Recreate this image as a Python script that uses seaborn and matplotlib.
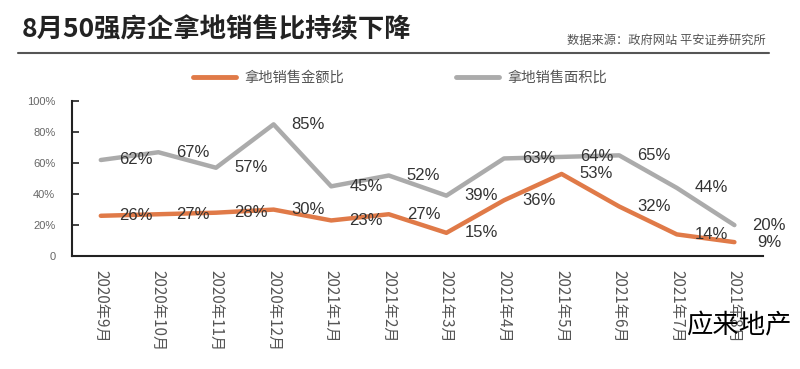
import matplotlib
matplotlib.use("Agg")
import pandas as pd
import matplotlib.pyplot as plt
import seaborn as sns
from matplotlib.lines import Line2D

months = ["2020年9月", "2020年10月", "2020年11月", "2020年12月", "2021年1月", "2021年2月",
          "2021年3月", "2021年4月", "2021年5月", "2021年6月", "2021年7月", "2021年8月"]
amount_ratio = [26, 27, 28, 30, 23, 27, 15, 36, 53, 32, 14, 9]
area_ratio = [62, 67, 57, 85, 45, 52, 39, 63, 64, 65, 44, 20]
series_names = ["拿地销售金额比", "拿地销售面积比"]
y_ticks = [0, 20, 40, 60, 80, 100]
y_tick_labels = ["0", "20%", "40%", "60%", "80%", "100%"]

COLORS = {"拿地销售金额比": "#E07A48", "拿地销售面积比": "#ABABAB"}

df = pd.DataFrame({
    "idx": list(range(len(months))) * 2,
    "value": amount_ratio + area_ratio,
    "series": [series_names[0]] * len(months) + [series_names[1]] * len(months),
})

sns.set_style("white")
plt.rcParams["font.family"] = ["Noto Sans CJK SC", "DejaVu Sans"]

fig = plt.figure(figsize=(8, 3.69), dpi=100)
ax = fig.add_axes([0.09, 0.306, 0.864, 0.42])

sns.lineplot(data=df, x="idx", y="value", hue="series", palette=COLORS,
             linewidth=3.2, ax=ax, legend=False, zorder=3)

# data labels sit to the right of each point
for vals in (amount_ratio, area_ratio):
    for i, v in enumerate(vals):
        ax.annotate(f"{v}%", (i, v), xytext=(25, 0), textcoords="offset points",
                    ha="center", va="center", fontsize=12, color="#333333",
                    family=["Liberation Sans", "DejaVu Sans"], zorder=5)

ax.set_xlim(-0.5, len(months) - 0.5)
ax.set_ylim(0, 100)
ax.set_xticks(range(len(months)))
ax.set_xticklabels(months, rotation=270, fontsize=11, color="#555555")
ax.set_xticks([i - 0.5 for i in range(len(months) + 1)], minor=True)
ax.tick_params(axis="x", which="major", length=0, pad=10)
ax.tick_params(axis="x", which="minor", direction="in", length=5, width=1.2, color="#222222")
ax.set_yticks(y_ticks)
ax.set_yticklabels(y_tick_labels, fontsize=8, color="#666666",
                   family=["Liberation Sans", "DejaVu Sans"])
ax.tick_params(axis="y", direction="in", length=5, width=1.2, color="#222222", pad=12, left=True)
ax.set_xlabel("")
ax.set_ylabel("")
for side in ("top", "right"):
    ax.spines[side].set_visible(False)
for side in ("left", "bottom"):
    ax.spines[side].set_color("#222222")
    ax.spines[side].set_linewidth(1.5)

handles = [Line2D([], [], color=COLORS[n], linewidth=3.5) for n in series_names]
fig.legend(handles, series_names, loc="center left", bbox_to_anchor=(0.225, 0.789),
           ncol=2, frameon=False, fontsize=10.3, handlelength=3.0, columnspacing=7.8,
           handletextpad=0.6, labelcolor="#555555")

fig.text(0.027, 0.918, "8月50强房企拿地销售比持续下降", fontsize=19, fontweight="bold",
         color="#222222", ha="left", va="center")
fig.text(0.957, 0.89, "数据来源：政府网站 平安证券研究所", fontsize=8.8, color="#555555",
         ha="right", va="center")
fig.add_artist(Line2D([0.022, 0.961], [0.856, 0.856], transform=fig.transFigure,
                      color="#555555", linewidth=1.5))
fig.text(0.99, 0.117, "应来地产", fontsize=19, color="black", ha="right", va="center")

fig.savefig("out.png", dpi=100, facecolor="white")
